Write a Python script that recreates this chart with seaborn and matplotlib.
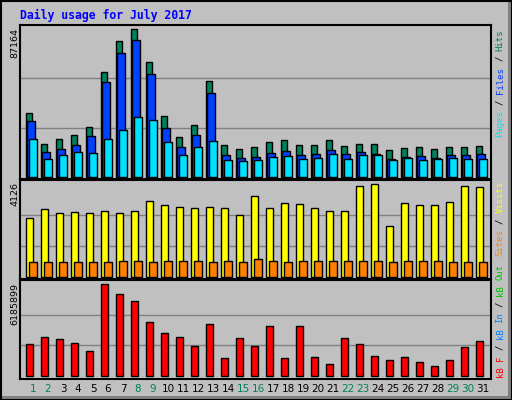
import matplotlib
matplotlib.use("Agg")
import matplotlib.pyplot as plt
import numpy as np
import seaborn as sns
from matplotlib.patches import Rectangle

DAYS = list(range(1, 32))
WEEKENDS = [1, 2, 8, 9, 15, 16, 22, 23, 29, 30]
HITS = [37950, 19570, 22530, 24910, 29650, 61670, 80060, 87164, 67600, 36170, 23720,
        30840, 56340, 18980, 16600, 17790, 20760, 21940, 18980, 18980, 21940, 18380,
        19570, 19570, 16010, 17200, 17790, 16600, 17790, 17790, 18380]
FILES = [33210, 14830, 16600, 18980, 24310, 55740, 72940, 80650, 60490, 29060, 17790,
         24910, 49220, 13050, 11270, 11860, 14230, 15420, 13050, 13640, 16010, 13640,
         14830, 13640, 10670, 11860, 12450, 11270, 13050, 13050, 13640]
PAGES = [22530, 10670, 13050, 14830, 14230, 22530, 27870, 35580, 33800, 20760, 13050,
         17790, 21350, 10080, 9490, 10080, 11860, 12450, 10670, 11270, 13640, 10670,
         13050, 13050, 10080, 11270, 10080, 10670, 11270, 10670, 10670]
VISITS = [2607, 3009, 2830, 2875, 2830, 2920, 2830, 2920, 3366, 3188, 3098, 3054, 3098,
          3054, 2741, 3590, 3054, 3277, 3232, 3054, 2920, 2920, 4036, 4126, 2249, 3277,
          3188, 3188, 3322, 4036, 3992]
SITES = [640, 640, 640, 640, 640, 640, 685, 685, 640, 685, 685, 685, 640, 685, 640, 775,
         685, 640, 685, 685, 685, 685, 685, 685, 640, 685, 685, 685, 640, 640, 640]
KBYTES = [2122000, 2596000, 2461000, 2190000, 1648000, 6185899, 5509000, 5034000,
          3612000, 2867000, 2596000, 1987000, 3477000, 1174000, 2529000, 1987000,
          3341000, 1174000, 3341000, 1242000, 768000, 2529000, 2122000, 1309000,
          1038000, 1242000, 903000, 632000, 1038000, 1919000, 2325000]

BG = "#C0C0C0"
C_HITS, C_FILES, C_PAGES = "#00805C", "#0040FF", "#00E0FF"
C_VISITS, C_SITES, C_KB = "#FFFF00", "#FF8000", "#FF0000"
C_KBIN, C_KBOUT = "#0080FF", "#00C000"

sns.set_style("white", {"axes.facecolor": BG, "figure.facecolor": BG})
W, H = 512, 400
fig = plt.figure(figsize=(W / 100, H / 100), dpi=100)
fig.patch.set_facecolor(BG)

X0, X1 = 20, 490.7
SLOT = 15.0


def make_axes(top, bottom, base, mtop, vmax):
    ax = fig.add_axes([X0 / W, 1 - bottom / H, (X1 - X0) / W, (bottom - top) / H])
    s = vmax / (base - mtop)
    ax.set_ylim(-(bottom - base) * s, (base - top) * s)
    ax.set_xlim(0, (X1 - X0) / SLOT)
    for g in (vmax / 3, 2 * vmax / 3):
        ax.axhline(g, color="#808080", lw=1, zorder=0)
    ax.set_xticks([])
    ax.set_yticks([])
    for sp in ax.spines.values():
        sp.set_color("black")
        sp.set_linewidth(1.5)
    return ax


x = np.array(DAYS) - 1
kw = dict(edgecolor="black", linewidth=1, align="edge")

ax1 = make_axes(25, 179, 176.7, 29.3, max(HITS))
ax1.bar(x + 0.38, HITS, width=0.44, color=C_HITS, **kw)
ax1.bar(x + 0.49, FILES, width=0.49, color=C_FILES, **kw)
ax1.bar(x + 0.62, PAGES, width=0.49, color=C_PAGES, **kw)

ax2 = make_axes(180, 279, 276.7, 184.3, max(VISITS))
ax2.bar(x + 0.38, VISITS, width=0.51, color=C_VISITS, **kw)
ax2.bar(x + 0.62, SITES, width=0.49, color=C_SITES, **kw)

ax3 = make_axes(280, 379, 375.7, 284.3, max(KBYTES))
ax3.bar(x + 0.38, KBYTES, width=0.47, color=C_KB, **kw)

for d in DAYS:
    fig.text((X0 + (d - 1 + 0.87) * SLOT) / W, 1 - 389 / H, str(d),
             ha="center", va="center", fontsize=7.5,
             color=C_HITS if d in WEEKENDS else "black")

fig.text(20 / W, 1 - 15 / H, "Daily usage for July 2017", family="DejaVu Sans Mono",
         weight="bold", fontsize=8.3, color="#0000FF", ha="left", va="center")

for ytop, val in ((28, max(HITS)), (182, max(VISITS)), (283, max(KBYTES))):
    fig.text(15 / W, 1 - ytop / H, str(val), rotation=90, ha="center", va="top",
             fontsize=6.8, color="black")

CW = 5.4


def vlabel(xpx, y0, parts):
    idx = 0
    for text, color in parts:
        for word in text.split(" "):
            if word:
                fig.text(xpx / W, 1 - (y0 - idx * CW) / H, word, rotation=90,
                         ha="center", va="bottom", family="DejaVu Sans Mono",
                         fontsize=6.5, color=color)
            idx += len(word) + 1
        idx -= 1


vlabel(500, 137, [("Pages ", C_PAGES), ("/ ", "black"), ("Files ", C_FILES),
                  ("/ ", "black"), ("Hits", C_HITS)])
vlabel(500, 256, [("Sites ", C_SITES), ("/ ", "black"), ("Visits", C_VISITS)])
vlabel(500, 377, [("kB F ", C_KB), ("/ ", "black"), ("kB In ", C_KBIN),
                  ("/ ", "black"), ("kB Out", C_KBOUT)])

# window-like frame with shadow
fig.patches.append(Rectangle((1 - 4 / W, 0), 4 / W, 1 - 2 / H, transform=fig.transFigure,
                             facecolor="#808080", edgecolor="none"))
fig.patches.append(Rectangle((0, 0), 1, 4 / H, transform=fig.transFigure,
                             facecolor="#808080", edgecolor="none"))
fig.patches.append(Rectangle((0.5 / W, 0.5 / H), 1 - 1 / W, 1 - 1 / H,
                             transform=fig.transFigure, facecolor="none",
                             edgecolor="black", linewidth=1.5))

fig.savefig("out.png", dpi=100, facecolor=BG)
